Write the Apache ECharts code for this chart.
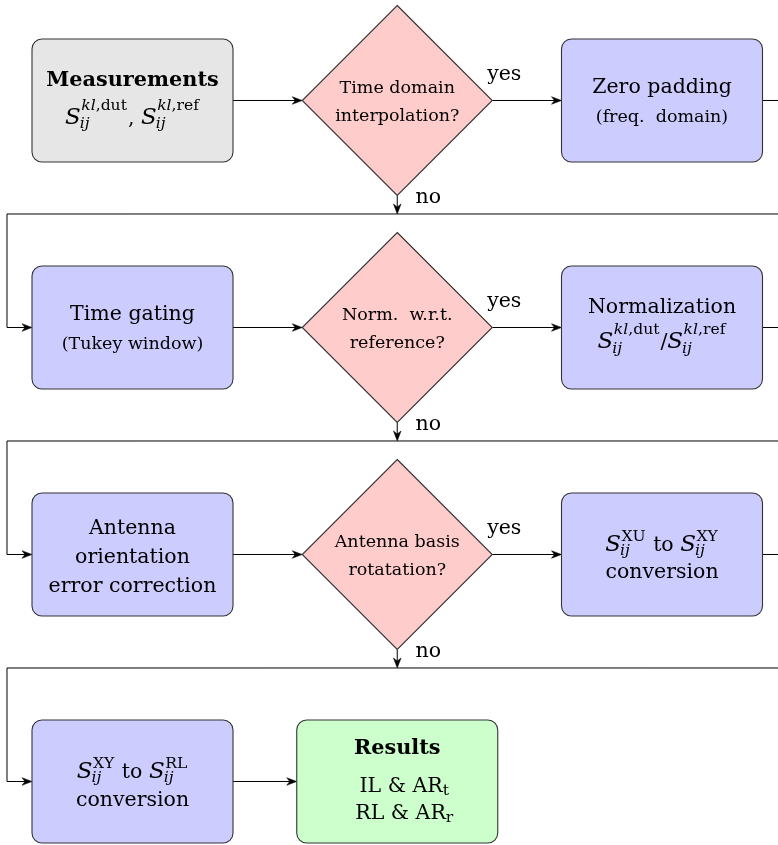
<!DOCTYPE html>
<html><head><meta charset="utf-8">
<script src="https://cdn.jsdelivr.net/npm/echarts@6/dist/echarts.min.js"></script>
<style>html,body{margin:0;padding:0;background:#fff}#c{width:778px;height:845px}</style>
</head><body><div id="c"></div>
<script>
// ================= DATA =================
const nodeNames = ['measurements','tdInterp','zeroPad','timeGate','normQ','normalization',
  'orientCorr','basisQ','xuToXy','xyToRl','results'];
const nodeKinds = ['input','decision','process','process','decision','process',
  'process','decision','process','process','output'];
const nodeCols = [0,1,2, 0,1,2, 0,1,2, 0,1];   // flow-grid column
const nodeRows = [0,0,0, 1,1,1, 2,2,2, 3,3];   // flow-grid row
const edgeFrom   = [0,1,1,2,3,4,4,5,6,7,7,8,9];
const edgeTo     = [1,2,3,3,4,5,6,6,7,8,9,9,10];
const edgeLabels = ['','yes','no','','','yes','no','','','yes','no','',''];

// text content: line = [sizeClass, ...parts]; part = string | {base, sup:[...], sub:[...]}
const it = t => ({t, i:true});
const rm = t => ({t, i:false});
const Sij = sup => ({base:'S', sup, sub:[it('ij')]});
const nodeText = [
  [['B','Measurements'], ['L', Sij([it('kl'), rm(',dut')]), ', ', Sij([it('kl'), rm(',ref')])]],
  [['S','Time domain'], ['S','interpolation?']],
  [['L','Zero padding'], ['S','(freq.  domain)']],
  [['L','Time gating'], ['S','(Tukey window)']],
  [['S','Norm.  w.r.t.'], ['S','reference?']],
  [['L','Normalization'], ['L', Sij([it('kl'), rm(',dut')]), '/', Sij([it('kl'), rm(',ref')])]],
  [['L','Antenna'], ['L','orientation'], ['L','error correction']],
  [['S','Antenna basis'], ['S','rotatation?']],
  [['L', Sij([rm('XU')]), ' to ', Sij([rm('XY')])], ['L','conversion']],
  [['L', Sij([rm('XY')]), ' to ', Sij([rm('RL')])], ['L','conversion']],
  [['B','Results'], ['L','IL & AR', {base:'', sub:[rm('t')]}], ['L','RL & AR', {base:'', sub:[rm('r')]}]]
];

// ================= STYLE / LAYOUT =================
const FONT = '"DejaVu Serif", serif';
const SIZE = {L:20.5, S:17.5, B:20.8};
const MATH_BASE = 1.12, SCRIPT = 0.76;
const TEXT_COLOR = '#000';
const BOX_W = 201, BOX_H = 123, BOX_R = 10, DIAMOND_HALF = 95;
const FILL = {input:'#e6e6e6', process:'#ccccff', decision:'#ffcccc', output:'#ccffcc'};
const BORDER = '#333', BORDER_W = 1.1, EDGE_COLOR = '#000', EDGE_W = 1;
const LINE_BASE = [[-14.5,23.5],[-7,20.5],[-7.5,21.5],[-7.5,22],[-7,20.5],[-14.5,21],
  [-20.5,8.5,37.5],[-7,21],[-3.5,23.5],[-3.5,24.5],[-27.5,10.5,37.5]];
const LINE_DX = {10:[0,7.5,7.5]};
const MIDDLE_SHIFT = 0.27;

const mctx = document.createElement('canvas').getContext('2d');
function fontStr(size, italic, bold){ return (italic?'italic ':'') + (bold?'bold ':'') + size + 'px ' + FONT; }
function tw(t, f){ mctx.font = f; return mctx.measureText(t).width; }

function layoutLine(line, cx, by){
  const kind = line[0], F = SIZE[kind], bold = kind === 'B';
  const items = []; let x = 0;
  for (const p of line.slice(1)) {
    if (typeof p === 'string') {
      const f = fontStr(F, false, bold);
      items.push({t:p, x, y:0, f, s:F}); x += tw(p, f);
    } else {
      let bw = 0;
      if (p.base) { const bF = F * MATH_BASE, f = fontStr(bF, true, false); items.push({t:p.base, x, y:0, f, s:bF}); bw = tw(p.base, f); }
      const sF = F * SCRIPT, sx = x + bw;
      let supW = 0, subW = 0;
      if (p.sup) {
        const comma = p.sup.some(s => /,/.test(s.t));
        const dy = -F * (comma ? 0.68 : 0.5);
        let xx = sx + 0.5;
        for (const s of p.sup) { const f = fontStr(sF, s.i, false); items.push({t:s.t, x:xx, y:dy, f, s:sF}); xx += tw(s.t, f); }
        supW = xx - sx;
      }
      if (p.sub) {
        const dy = F * (p.sup ? 0.22 : 0.15);
        let xx = sx - (p.base ? 1 : 0);
        for (const s of p.sub) { const f = fontStr(sF, s.i, false); items.push({t:s.t, x:xx, y:dy, f, s:sF}); xx += tw(s.t, f); }
        subW = xx - sx;
      }
      x = sx + Math.max(supW, subW) + 1;
    }
  }
  const x0 = cx - x / 2;
  return items.map(o => ({type:'text', style:{text:o.t, x:x0 + o.x, y:by + o.y - o.s * MIDDLE_SHIFT,
    font:o.f, fill:TEXT_COLOR, align:'left', verticalAlign:'middle'}}));
}

function arrow(tx, ty, ang){
  const L = 10, W = 3.8, N = 7;
  const c = Math.cos(ang), s = Math.sin(ang);
  const p = (dx, dy) => [tx + dx * c - dy * s, ty + dx * s + dy * c];
  return {type:'polygon', shape:{points:[p(0,0), p(-L,-W), p(-N,0), p(-L,W)]},
    style:{fill:EDGE_COLOR, stroke:EDGE_COLOR, lineWidth:0.5}};
}
const halfW = k => k === 'decision' ? DIAMOND_HALF : BOX_W / 2;

function renderNode(params, api){
  const i = api.value(2);
  const c = api.coord([api.value(0), api.value(1)]);
  const kind = nodeKinds[i];
  const children = [];
  if (kind === 'decision') {
    const H = DIAMOND_HALF;
    children.push({type:'polygon', shape:{points:[[c[0],c[1]-H],[c[0]+H,c[1]],[c[0],c[1]+H],[c[0]-H,c[1]]]},
      style:{fill:FILL[kind], stroke:BORDER, lineWidth:BORDER_W}});
  } else {
    children.push({type:'rect', shape:{x:c[0]-BOX_W/2, y:c[1]-BOX_H/2, width:BOX_W, height:BOX_H, r:BOX_R},
      style:{fill:FILL[kind], stroke:BORDER, lineWidth:BORDER_W}});
  }
  nodeText[i].forEach((line, k) => {
    const dx = (LINE_DX[i] || [])[k] || 0;
    children.push(...layoutLine(line, c[0] + dx, c[1] + LINE_BASE[i][k]));
  });
  return {type:'group', children};
}

function renderEdge(params, api){
  const i = api.value(4);
  const a = api.coord([api.value(0), api.value(1)]);
  const b = api.coord([api.value(2), api.value(3)]);
  const fk = nodeKinds[edgeFrom[i]], tk = nodeKinds[edgeTo[i]];
  const children = [];
  let pts, tip, ang;
  if (api.value(1) === api.value(3)) {
    const x1 = a[0] + halfW(fk), x2 = b[0] - halfW(tk);
    pts = [[x1, a[1]], [x2 - 5, b[1]]]; tip = [x2, b[1]]; ang = 0;
  } else {
    const midY = (a[1] + b[1]) / 2;
    if (fk === 'decision') {
      pts = [[a[0], a[1] + DIAMOND_HALF], [a[0], midY - 5]]; tip = [a[0], midY]; ang = Math.PI / 2;
    } else {
      const right = a[0] + halfW(fk) + 30, left = b[0] - halfW(tk) - 25, x2 = b[0] - halfW(tk);
      pts = [[a[0] + halfW(fk), a[1]], [right, a[1]], [right, midY], [left, midY], [left, b[1]], [x2 - 5, b[1]]];
      tip = [x2, b[1]]; ang = 0;
    }
  }
  children.push({type:'polyline', shape:{points:pts}, style:{stroke:EDGE_COLOR, lineWidth:EDGE_W, fill:null}});
  children.push(arrow(tip[0], tip[1], ang));
  const lab = edgeLabels[i];
  if (lab === 'yes') {
    children.push(...layoutLine(['L', lab], a[0] + DIAMOND_HALF + 12, a[1] - 20));
  } else if (lab === 'no') {
    children.push(...layoutLine(['L', lab], a[0] + 31, a[1] + DIAMOND_HALF + 7.5));
  }
  return {type:'group', children};
}

const chart = echarts.init(document.getElementById('c'), null, {renderer:'canvas'});
chart.setOption({
  animation:false,
  backgroundColor:'#fff',
  grid:{left:0, right:0, top:0, bottom:0},
  xAxis:{type:'value', min:-0.50047, max:2.43815, show:false},
  yAxis:{type:'value', inverse:true, min:-0.44273, max:3.27974, show:false},
  series:[
    {type:'custom', name:'edges', renderItem:renderEdge, silent:true, z:1,
     data: edgeFrom.map((f, i) => [nodeCols[f], nodeRows[f], nodeCols[edgeTo[i]], nodeRows[edgeTo[i]], i])},
    {type:'custom', name:'nodes', renderItem:renderNode, silent:true, z:2,
     data: nodeCols.map((c, i) => [c, nodeRows[i], i])}
  ]
});
</script></body></html>
